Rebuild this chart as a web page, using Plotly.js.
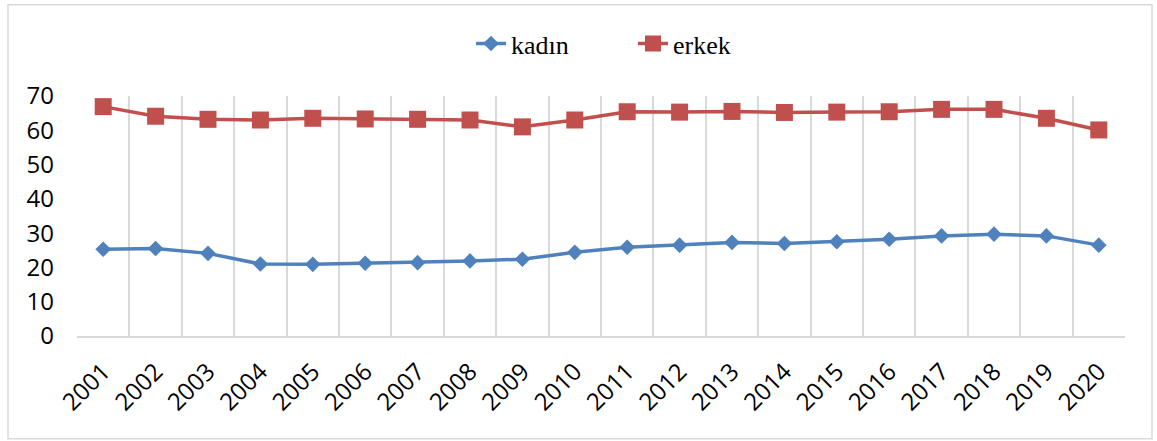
<!DOCTYPE html>
<html>
<head>
<meta charset="utf-8">
<script src="https://cdn.plot.ly/plotly-3.0.1.min.js"></script>
<style>html,body{margin:0;padding:0;background:#fff;}#chart{width:1157px;height:441px;}</style>
</head>
<body>
<div id="chart"></div>
<script>
const years = ["2001","2002","2003","2004","2005","2006","2007","2008","2009","2010","2011","2012","2013","2014","2015","2016","2017","2018","2019","2020"];
const kadin = [25.3,25.5,24.1,21.0,20.9,21.2,21.4,21.9,22.4,24.4,25.9,26.5,27.3,27.0,27.5,28.2,29.2,29.7,29.2,26.5];
const erkek = [66.9,64.1,63.2,63.0,63.5,63.3,63.2,63.0,61.0,63.0,65.4,65.3,65.5,65.2,65.3,65.4,66.1,66.1,63.5,60.1];

const L = 77, R = 1125, T = 95.5, B = 336, W = 1157, H = 441;
const pw = R - L, ph = B - T;
const px = v => (v - L) / pw;
const py = v => (B - v) / ph;

const traces = [
  {x: years, y: kadin, name: "kadın", type: "scatter", mode: "lines+markers",
   line: {color: "#4F81BD", width: 3.5}, marker: {symbol: "diamond", size: 12, color: "#4F81BD"}},
  {x: years, y: erkek, name: "erkek", type: "scatter", mode: "lines+markers",
   line: {color: "#C0504D", width: 3.5}, marker: {symbol: "square", size: 17, color: "#C0504D"}}
];

const layout = {
  width: W, height: H,
  margin: {l: L, r: W - R, t: T, b: H - B, pad: 0},
  paper_bgcolor: "#fff", plot_bgcolor: "#fff",
  showlegend: true,
  legend: {orientation: "h", x: px(471), xanchor: "left", y: py(43), yanchor: "middle",
           font: {family: "Liberation Serif, Times New Roman, serif", size: 26, color: "#000"},
           entrywidth: 117, bgcolor: "rgba(0,0,0,0)"},
  xaxis: {type: "category", range: [-0.5, 19.5], tickson: "boundaries", showgrid: true,
          gridcolor: "#d9d9d9", gridwidth: 2, ticks: "", showline: true, linecolor: "#d9d9d9", linewidth: 2,
          tickangle: -45, tickfont: {family: "Open Sans, sans-serif", size: 24, color: "#000"},
          ticklabelstandoff: 10, fixedrange: true, zeroline: false},
  yaxis: {range: [0, 70], dtick: 10, tick0: 0, showgrid: false, zeroline: false, showline: false,
          ticks: "", tickfont: {family: "Open Sans, sans-serif", size: 24, color: "#000"},
          ticklabelstandoff: 22, fixedrange: true},
  shapes: [
    {type: "rect", xref: "paper", yref: "paper", x0: px(8), x1: px(1152), y0: py(439), y1: py(4),
     line: {color: "#d9d9d9", width: 1.5}, fillcolor: "rgba(0,0,0,0)", layer: "below"}
  ]
};

Plotly.newPlot("chart", traces, layout, {displayModeBar: false, staticPlot: true});
</script>
</body>
</html>
